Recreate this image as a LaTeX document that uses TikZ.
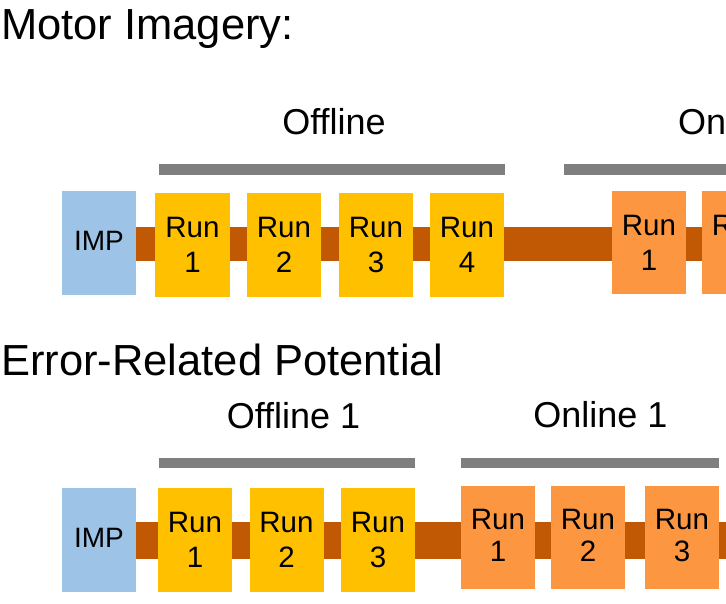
\documentclass[tikz,border=0pt]{standalone}
\usepackage{fontspec}
\setmainfont{Liberation Sans}
\usetikzlibrary{backgrounds}
\definecolor{impblue}{RGB}{157,195,230}
\definecolor{offyellow}{RGB}{255,192,0}
\definecolor{onorange}{RGB}{252,150,64}
\definecolor{barbrown}{RGB}{193,88,4}
\definecolor{bargray}{RGB}{127,127,127}
\tikzset{
  box/.style={draw=none, minimum width=74pt, minimum height=104pt, inner sep=0pt,
     align=center, font=\fontsize{29.5}{35}\selectfont},
  impbox/.style={box, fill=impblue, font=\fontsize{28}{35}\selectfont},
  offbox/.style={box, fill=offyellow},
  onbox/.style={box, fill=onorange, minimum height=103pt},
  mainbar/.style={draw=barbrown, line width=34pt},
  phasebar/.style={draw=bargray, line width=10.5pt},
  title/.style={anchor=base west, inner sep=0pt, font=\fontsize{43.5}{50}\selectfont},
  phase/.style={anchor=base, inner sep=0pt, font=\fontsize{36}{42}\selectfont},
}
\begin{document}
\begin{tikzpicture}[x=1pt,y=-1pt]
\clip (0,0) rectangle (726,603);
\useasboundingbox (0,0) rectangle (726,603);

% ---- Motor Imagery ----
\node[title] (t1) at (1,39) {Motor Imagery:};
\node[phase] (off1lab) at (334,134) {Offline};
\node[phase, anchor=base west] (on1lab) at (678,134) {On};
\coordinate (gb1a) at (159,169.5);
\coordinate (gb1b) at (505,169.5);
\coordinate (gb2a) at (564,169.5);
\coordinate (gb2b) at (740,169.5);
\draw[phasebar] (gb1a) -- (gb1b);
\draw[phasebar] (gb2a) -- (gb2b);

\node[impbox] (imp1) at (99,243) {\raisebox{5pt}{IMP}};
\node[offbox, minimum width=75pt] (a1) at (192.5,245) {Run\\1};
\node[offbox] (a2) at (284,245) {Run\\2};
\node[offbox] (a3) at (376,245) {Run\\3};
\node[offbox] (a4) at (467,245) {Run\\4};
\node[onbox] (b1) at (649,242.5) {Run\\1};
\node[onbox] (b2) at (739,242.5) {Run\\2};
\coordinate (end1) at (740,244);
\begin{scope}[on background layer]
  \draw[mainbar] (imp1.east |- end1) -- (end1);
\end{scope}

% ---- Error-Related Potential ----
\node[title] (t2) at (1,375) {Error-Related Potential};
\node[phase] (off2lab) at (293.5,428) {Offline 1};
\node[phase] (on2lab) at (600.5,427) {Online 1};
\coordinate (gb3a) at (159,463);
\coordinate (gb3b) at (415,463);
\coordinate (gb4a) at (461,463);
\coordinate (gb4b) at (719,463);
\draw[phasebar, line width=10pt] (gb3a) -- (gb3b);
\draw[phasebar, line width=10pt] (gb4a) -- (gb4b);

\node[impbox] (imp2) at (99,540) {\raisebox{5pt}{IMP}};
\node[offbox] (c1) at (195,540) {Run\\1};
\node[offbox] (c2) at (286.5,540) {Run\\2};
\node[offbox] (c3) at (378,540) {Run\\3};
\node[onbox, font=\fontsize{29.5}{32}\selectfont] (d1) at (498,537.5) {\raisebox{4pt}{Run}\\\raisebox{4pt}{1}};
\node[onbox, font=\fontsize{29.5}{32}\selectfont] (d2) at (588,537.5) {\raisebox{4pt}{Run}\\\raisebox{4pt}{2}};
\node[onbox, font=\fontsize{29.5}{32}\selectfont] (d3) at (682,537.5) {\raisebox{4pt}{Run}\\\raisebox{4pt}{3}};
\coordinate (end2) at (740,540.5);
\begin{scope}[on background layer]
  \draw[mainbar, line width=37pt] (imp2.east |- end2) -- (end2);
\end{scope}
\end{tikzpicture}
\end{document}
